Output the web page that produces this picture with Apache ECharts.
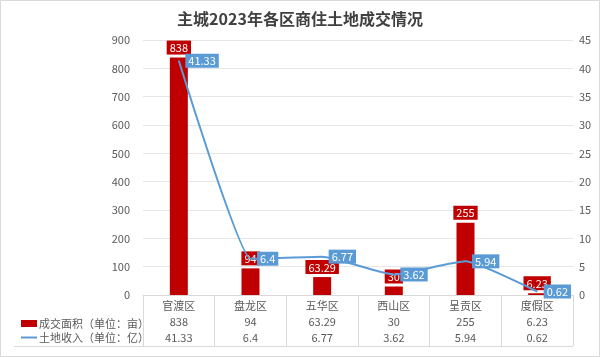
<!DOCTYPE html>
<html><head><meta charset="utf-8">
<script src="https://cdn.jsdelivr.net/npm/echarts@6/dist/echarts.min.js"></script>
<style>html,body{margin:0;padding:0;background:#fff}#c{width:600px;height:357px}</style>
</head><body><div id="c"></div>
<script>
const categories = ['官渡区','盘龙区','五华区','西山区','呈贡区','度假区'];
const areaValues = [838, 94, 63.29, 30, 255, 6.23];
const incomeValues = [41.33, 6.4, 6.77, 3.62, 5.94, 0.62];
const leftTicks = [0, 900, 100];
const rightTicks = [0, 45, 5];
const seriesNames = ['成交面积（单位：亩）','土地收入（单位：亿）'];
const titleText = '主城2023年各区商住土地成交情况';

const FONT = '"Noto Sans CJK SC", "Noto Sans", sans-serif';
const chart = echarts.init(document.getElementById('c'));
chart.setOption({
  animation: false,
  textStyle: {fontFamily: FONT},
  title: {text: titleText, left: 'center', top: 6,
    textStyle: {fontSize: 16, fontWeight: 'bold', color: '#404040', fontFamily: FONT}},
  grid: {left: 143, right: 27, top: 40, bottom: 62},
  legend: {orient: 'vertical', left: 16, top: 313, itemGap: 3, itemWidth: 16, itemHeight: 7,
    textStyle: {fontSize: 11, color: '#595959', padding: [0,0,0,-3]},
    data: [{name: seriesNames[0], icon: 'rect'},
           {name: seriesNames[1], icon: 'path://M0,0 L16,0 L16,2 L0,2 Z'}]},
  xAxis: {type: 'category', data: categories,
    axisLine: {lineStyle: {color: '#d9d9d9'}},
    axisTick: {show: true, length: 51, lineStyle: {color: '#d9d9d9'}},
    axisLabel: {color: '#595959', fontSize: 11, margin: 3, lineHeight: 16,
      formatter: (v, i) => v + '\n' + areaValues[i] + '\n' + incomeValues[i]}},
  yAxis: [
    {type: 'value', min: leftTicks[0], max: leftTicks[1], interval: leftTicks[2],
      axisLabel: {color: '#595959', fontSize: 11, margin: 13},
      axisLine: {show: false}, axisTick: {show: false},
      splitLine: {lineStyle: {color: '#e6e6e6'}}},
    {type: 'value', min: rightTicks[0], max: rightTicks[1], interval: rightTicks[2],
      axisLabel: {color: '#595959', fontSize: 11, margin: 6},
      axisLine: {show: false}, axisTick: {show: false}, splitLine: {show: false}}
  ],
  series: [
    {name: seriesNames[0], type: 'bar', data: areaValues, barWidth: 18,
      itemStyle: {color: '#c00000'},
      label: {show: true, position: 'top', distance: 3, color: '#fff', fontSize: 11,
        backgroundColor: '#c00000', padding: [2, 3, 1, 3]}},
    {name: seriesNames[1], type: 'line', yAxisIndex: 1, data: incomeValues,
      smooth: 0.15, smoothMonotone: 'x',
      symbol: 'circle', symbolSize: 1,
      lineStyle: {color: '#5b9bd5', width: 2}, itemStyle: {color: '#5b9bd5'},
      label: {show: true, position: 'right', distance: 6, color: '#fff', fontSize: 11,
        backgroundColor: '#5b9bd5', padding: [2, 3, 1, 3]}}
  ],
  graphic: [
    {type: 'rect', shape: {x: 0.5, y: 0.5, width: 599, height: 356},
      style: {fill: 'none', stroke: '#d9d9d9', lineWidth: 1}, silent: true},
    {type: 'line', shape: {x1: 14, y1: 346.5, x2: 573, y2: 346.5},
      style: {stroke: '#d9d9d9', lineWidth: 1}, silent: true}
  ]
});
</script></body></html>
